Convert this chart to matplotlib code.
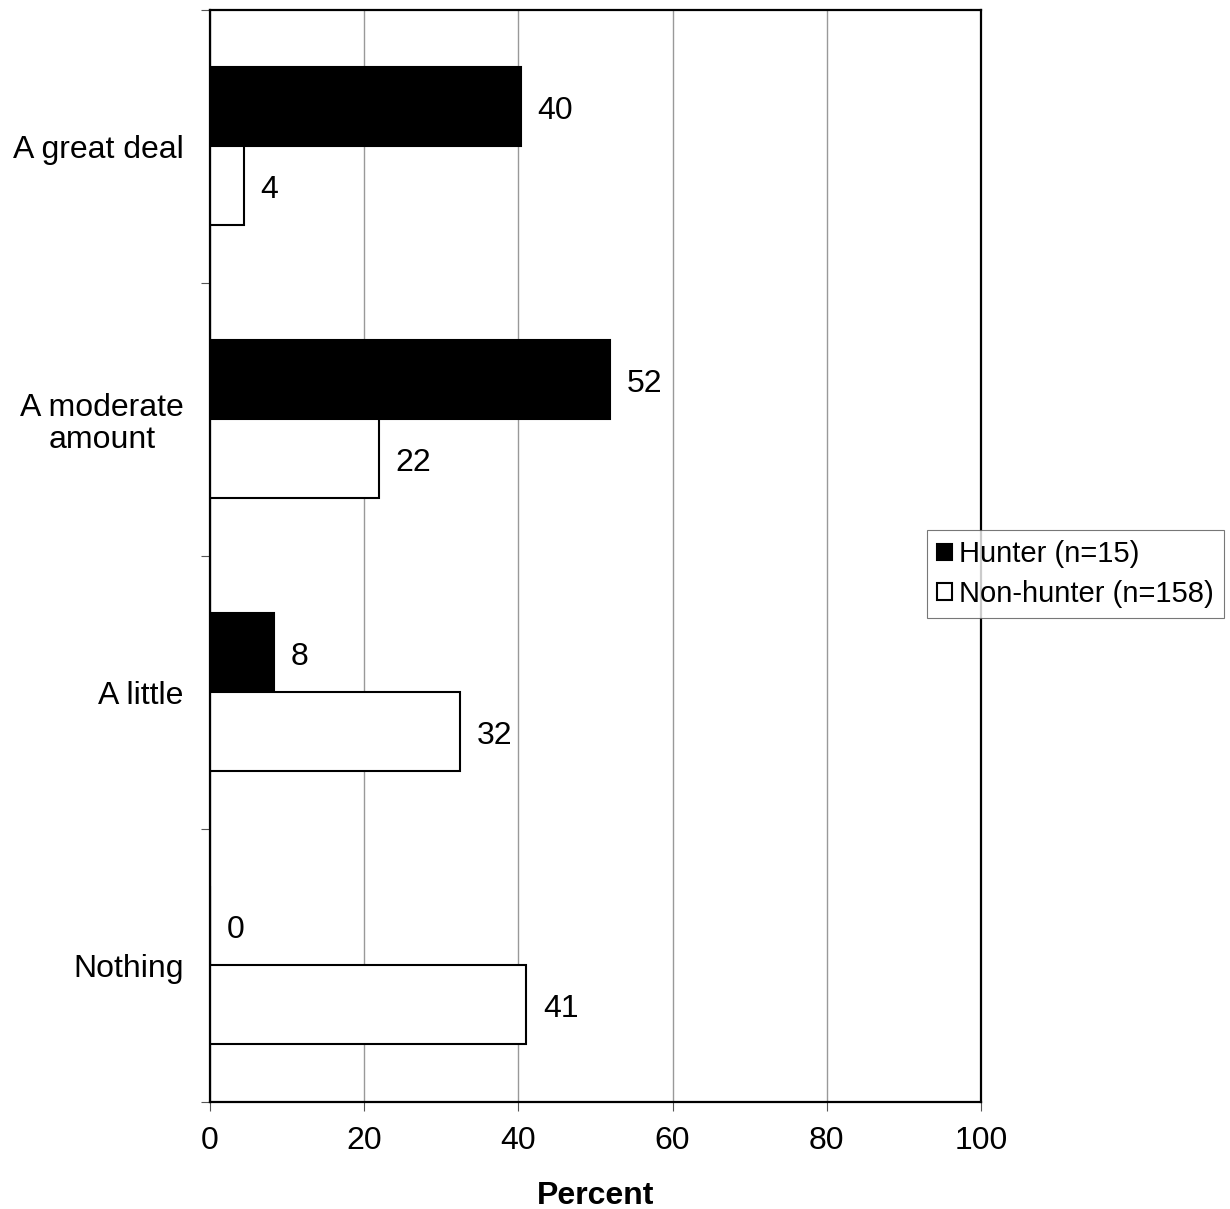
import numpy as np
import matplotlib.pyplot as plt

plt.rcParams['font.family'] = ['Liberation Sans', 'DejaVu Sans']

# data
categories = ["A great deal", "A moderate\namount", "A little", "Nothing"]
hunter = [40.3, 51.9, 8.3, 0]
non_hunter = [4.4, 21.9, 32.4, 41.0]
hunter_labels = ["40", "52", "8", "0"]
non_hunter_labels = ["4", "22", "32", "41"]
series_names = ["Hunter (n=15)", "Non-hunter (n=158)"]

fig = plt.figure(figsize=(12.3, 12.09), dpi=100)
ax = fig.add_axes([0.1707, 0.0889, 0.6269, 0.9032])

y = np.arange(len(categories))
h = 0.288

b1 = ax.barh(y - h / 2, hunter, height=h, color="black", edgecolor="black",
             linewidth=1.5, label=series_names[0], zorder=3)
b2 = ax.barh(y + h / 2, non_hunter, height=h, color="white", edgecolor="black",
             linewidth=1.5, label=series_names[1], zorder=3)

# value labels next to bar ends
for bars, labels in [(b1, hunter_labels), (b2, non_hunter_labels)]:
    for bar, lab in zip(bars, labels):
        ax.annotate(lab, (bar.get_width(), bar.get_y() + bar.get_height() / 2),
                    xytext=(12, -3), textcoords="offset points",
                    ha="left", va="center", fontsize=23)

ax.set_xlim(0, 100)
ax.set_ylim(len(categories) - 0.5, -0.5)
ax.set_xticks(np.arange(0, 101, 20))
ax.tick_params(axis="x", labelsize=23, length=6.5, width=0.8, color="#555555", pad=11)
ax.xaxis.grid(True, color="#999999", linewidth=1, zorder=0)

# ticks on the category boundaries, labels in the middle
ax.set_yticks(np.arange(-0.5, len(categories), 1))
ax.set_yticklabels([])
ax.set_yticks(y, minor=True)
ax.set_yticklabels(categories, minor=True, fontsize=23, multialignment="center",
                   linespacing=1.1)
ax.tick_params(axis="y", which="major", length=6.5, width=0.8, color="#555555")
ax.tick_params(axis="y", which="minor", length=0, pad=19)

for s in ax.spines.values():
    s.set_linewidth(1.6)
    s.set_zorder(4)

ax.set_xlabel("Percent", fontsize=23, fontweight="bold", labelpad=18)

leg = fig.legend(loc="center left", bbox_to_anchor=(0.7537, 0.5252), fontsize=21,
                 frameon=True, fancybox=False, edgecolor="#555555",
                 handlelength=0.5, handleheight=0.5, handletextpad=0.25,
                 borderpad=0.35, labelspacing=0.4, borderaxespad=0)
leg.get_frame().set_linewidth(0.8)

fig.savefig("out.png", dpi=100)
